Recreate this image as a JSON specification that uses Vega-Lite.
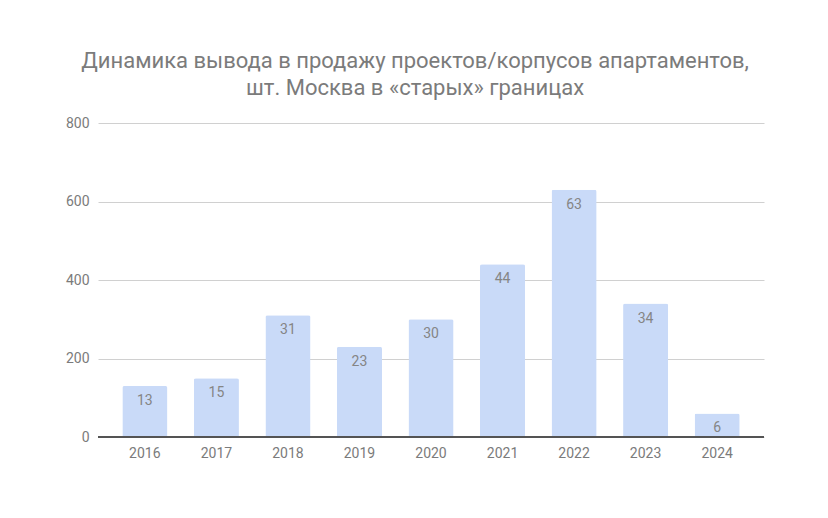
{
  "$schema": "https://vega.github.io/schema/vega-lite/v6.json",
  "autosize": {"type": "none"},
  "width": 666,
  "height": 314,
  "padding": {"left": 98, "top": 123, "right": 64, "bottom": 81},
  "background": "white",
  "title": {
    "text": ["Динамика вывода в продажу проектов/корпусов апартаментов,", "шт. Москва в «старых» границах"],
    "font": "Roboto",
    "fontSize": 22,
    "fontWeight": "normal",
    "color": "#7b7b7b",
    "anchor": "middle",
    "frame": "bounds",
    "lineHeight": 27,
    "offset": 16
  },
  "config": {
    "view": {"stroke": null},
    "font": "Roboto"
  },
  "data": {
    "values": [
      {"year": "2016", "value": 130, "label": "13"},
      {"year": "2017", "value": 150, "label": "15"},
      {"year": "2018", "value": 310, "label": "31"},
      {"year": "2019", "value": 230, "label": "23"},
      {"year": "2020", "value": 300, "label": "30"},
      {"year": "2021", "value": 440, "label": "44"},
      {"year": "2022", "value": 630, "label": "63"},
      {"year": "2023", "value": 340, "label": "34"},
      {"year": "2024", "value": 60, "label": "6"}
    ]
  },
  "encoding": {
    "x": {
      "field": "year",
      "type": "ordinal",
      "title": null,
      "scale": {"paddingInner": 0.37, "paddingOuter": 0.34},
      "axis": {
        "labelAngle": 0,
        "labelColor": "#7b7b7b",
        "labelFontSize": 14,
        "labelPadding": 9,
        "ticks": false,
        "domain": false,
        "grid": false
      }
    },
    "y": {
      "field": "value",
      "type": "quantitative",
      "title": null,
      "scale": {"domain": [0, 800], "nice": false},
      "axis": {
        "values": [0, 200, 400, 600, 800],
        "labelColor": "#7b7b7b",
        "labelFontSize": 14,
        "labelPadding": 9,
        "ticks": false,
        "domain": false,
        "gridColor": "#d0d0d0",
        "gridWidth": 1
      }
    }
  },
  "layer": [
    {
      "mark": {"type": "bar", "color": "#c9daf8", "cornerRadiusTopLeft": 2, "cornerRadiusTopRight": 2}
    },
    {
      "mark": {"type": "text", "baseline": "top", "dy": 8, "fontSize": 14, "color": "#858585"},
      "encoding": {"text": {"field": "label"}}
    },
    {
      "mark": {"type": "rule", "color": "#555555", "strokeWidth": 1.5},
      "encoding": {"y": {"datum": 0}, "x": null}
    }
  ]
}
